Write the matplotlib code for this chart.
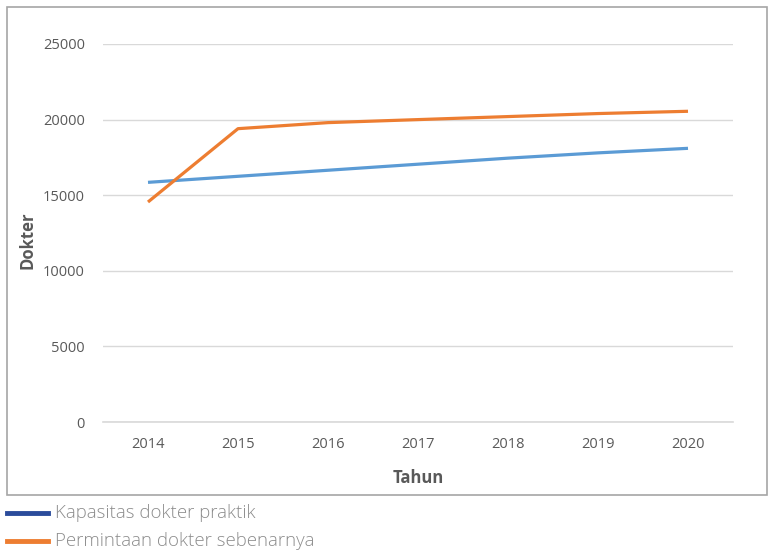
import matplotlib.pyplot as plt
from matplotlib.lines import Line2D
from matplotlib.patches import Rectangle

years = ["2014", "2015", "2016", "2017", "2018", "2019", "2020"]
kapasitas = [15850, 16250, 16650, 17050, 17450, 17800, 18100]
permintaan = [14550, 19400, 19800, 20000, 20200, 20400, 20550]
yticks = [0, 5000, 10000, 15000, 20000, 25000]
labels = ["Kapasitas dokter praktik", "Permintaan dokter sebenarnya"]
legend_colors = ['#2B4C9B', '#ED7D31']

plt.rcParams['font.family'] = ['Open Sans', 'DejaVu Sans']

W, H = 768, 552
fig = plt.figure(figsize=(W / 100, H / 100), dpi=100)
ax = fig.add_axes([103 / W, 1 - 422 / H, 630 / W, 378 / H])

# outer frame around chart
fig.patches.append(Rectangle((7 / W, 1 - 495 / H), 760 / W, 488 / H,
                             transform=fig.transFigure, fill=False,
                             edgecolor='#a6a6a6', linewidth=1.2))

x = list(range(len(years)))
ax.plot(x, kapasitas, color='#5B9BD5', linewidth=2.3, solid_capstyle='butt')
ax.plot(x, permintaan, color='#ED7D31', linewidth=2.3, solid_capstyle='butt')

ax.set_xlim(-0.5, len(years) - 0.5)
ax.set_ylim(0, 25000)
ax.set_xticks(x)
ax.set_xticklabels(years)
ax.set_yticks(yticks)
ax.grid(axis='y', color='#d9d9d9', linewidth=1)
ax.axhline(0, color='#d9d9d9', linewidth=1.2, clip_on=False, zorder=0)
ax.set_axisbelow(True)
for s in ax.spines.values():
    s.set_visible(False)
ax.tick_params(length=0, labelsize=10.5, colors='#595959')
ax.tick_params(axis='y', pad=13)
ax.tick_params(axis='x', pad=11)

ax.set_xlabel("Tahun", fontsize=12, fontweight='bold', color='#595959', labelpad=12)
fig.text(27 / W, 1 - 240 / H, "Dokter", rotation=90, fontsize=12, fontweight='bold',
         color='#595959', ha='center', va='center')

# legend drawn below the frame
for i, (lab, c) in enumerate(zip(labels, legend_colors)):
    yy = 1 - (513 + 28 * i) / H
    fig.add_artist(Line2D([7 / W, 48 / W], [yy, yy], transform=fig.transFigure,
                          color=c, linewidth=3.5))
    fig.text(55 / W, yy, lab, fontsize=13.4, fontweight='light', color='#8c8c8c',
             va='center', ha='left')

fig.savefig("out.png", dpi=100)
